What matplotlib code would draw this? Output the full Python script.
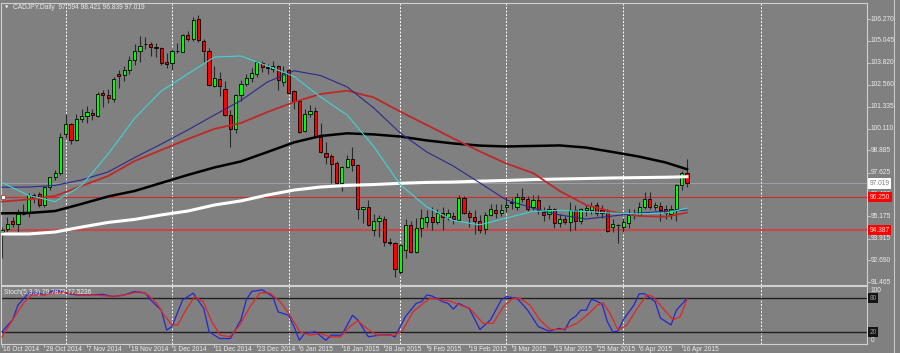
import matplotlib
matplotlib.use("Agg")
import matplotlib.pyplot as plt
import matplotlib.transforms as mtransforms
from matplotlib.lines import Line2D

plt.rcParams["font.family"] = ["Liberation Sans", "DejaVu Sans"]

# daily candles, 16 Oct 2014 .. 17 Apr 2015
opens = [94.30, 94.44, 94.93, 94.74, 95.30, 95.43, 96.37, 96.41, 95.81, 96.84,
         97.37, 97.59, 99.80, 100.37, 99.47, 100.63, 100.82, 101.00, 100.82, 102.09,
         101.98, 101.75, 103.18, 103.10, 103.40, 103.96, 104.49, 104.85, 104.85, 104.71,
         104.62, 103.87, 103.81, 104.45, 104.43, 105.37, 105.13, 106.25, 105.05, 104.49,
         102.50, 102.90, 102.32, 100.87, 100.07, 102.00, 102.62, 102.94, 103.18, 103.81,
         103.55, 103.44, 103.63, 102.75, 103.40, 102.22, 101.68, 99.99, 100.93, 101.11,
         99.65, 98.75, 98.58, 98.19, 97.03, 97.97, 98.38, 98.06, 95.57, 95.68,
         94.41, 94.93, 95.02, 93.71, 93.69, 92.06, 93.30, 94.69, 93.19, 94.50,
         94.87, 95.12, 94.84, 95.34, 95.15, 95.20, 94.97, 96.19, 95.38, 95.12,
         94.93, 94.44, 95.25, 95.53, 95.34, 95.68, 95.90, 95.72, 96.28, 96.12,
         95.68, 96.09, 95.43, 95.30, 95.57, 94.82, 95.01, 94.87, 95.53, 94.93,
         95.50, 95.53, 95.81, 95.53, 95.43, 94.60, 94.69, 94.60, 94.82, 95.25,
         95.25, 95.68, 96.12, 95.68, 95.75, 95.57, 95.30, 95.57, 96.94, 97.594]
highs = [94.60, 95.15, 95.15, 95.57, 95.86, 96.50, 96.50, 96.56, 96.90, 97.40,
         97.78, 99.84, 100.93, 100.41, 100.90, 101.19, 101.38, 101.19, 102.15, 102.28,
         102.32, 103.00, 103.40, 103.60, 104.20, 104.87, 105.31, 105.24, 105.00, 104.90,
         104.68, 104.34, 104.57, 104.92, 105.45, 105.61, 106.40, 106.49, 105.13, 104.62,
         103.63, 103.31, 102.80, 101.15, 102.05, 102.84, 103.20, 103.50, 103.93, 103.90,
         103.75, 103.90, 103.68, 103.63, 103.45, 102.28, 101.72, 101.20, 101.43, 101.30,
         100.41, 99.37, 98.68, 98.30, 98.00, 98.60, 99.06, 98.12, 95.72, 96.09,
         95.30, 95.25, 95.19, 93.95, 93.75, 93.61, 95.00, 94.90, 95.06, 95.57,
         95.50, 95.72, 95.60, 95.68, 95.60, 95.40, 96.37, 96.30, 95.50, 95.53,
         95.25, 95.40, 95.85, 95.85, 95.85, 96.28, 96.20, 96.50, 96.75, 96.30,
         96.37, 96.37, 95.70, 95.80, 95.63, 95.30, 95.20, 96.00, 95.80, 95.63,
         95.80, 96.00, 96.00, 95.80, 95.60, 95.00, 94.72, 95.10, 95.60, 95.60,
         96.00, 96.56, 96.56, 96.00, 96.00, 95.80, 95.80, 97.00, 97.74, 98.421]
lows = [92.85, 94.31, 94.59, 94.31, 95.25, 95.12, 95.91, 95.72, 95.70, 96.65,
        97.22, 97.50, 99.56, 99.24, 99.40, 100.49, 100.44, 100.59, 100.75, 101.34,
        101.53, 101.60, 102.37, 102.80, 103.20, 103.70, 103.87, 104.57, 104.19, 104.15,
        103.68, 103.50, 103.40, 104.38, 104.40, 105.05, 105.05, 104.99, 103.87, 102.50,
        102.46, 101.94, 100.82, 99.09, 99.88, 101.68, 102.50, 102.70, 103.03, 103.30,
        103.20, 103.30, 102.28, 102.50, 102.08, 101.19, 99.88, 99.90, 100.78, 99.65,
        98.75, 98.12, 97.07, 96.99, 96.62, 97.90, 97.74, 95.00, 94.78, 94.63,
        94.07, 94.03, 93.51, 93.55, 91.78, 91.95, 92.85, 93.10, 93.10, 94.03,
        94.60, 94.41, 94.75, 94.41, 94.98, 94.75, 94.93, 95.30, 94.59, 94.18,
        94.26, 94.20, 95.20, 95.10, 95.20, 95.43, 95.60, 95.55, 96.00, 95.45,
        95.50, 95.30, 94.90, 95.00, 94.50, 94.60, 94.75, 94.37, 94.41, 94.75,
        95.20, 95.30, 95.20, 95.10, 94.30, 94.30, 93.70, 94.30, 94.50, 95.00,
        95.20, 95.57, 95.57, 95.50, 94.93, 95.00, 95.00, 94.93, 96.65, 96.839]
closes = [94.40, 94.74, 94.74, 95.31, 95.36, 96.37, 96.19, 95.81, 96.80, 97.37,
          97.59, 99.62, 100.37, 99.47, 100.63, 100.82, 101.06, 100.89, 102.05, 101.98,
          101.81, 102.88, 103.06, 103.40, 103.96, 104.49, 104.77, 104.87, 104.71, 104.62,
          103.81, 103.74, 104.45, 104.47, 105.37, 105.13, 106.21, 105.09, 104.49, 102.56,
          102.94, 102.50, 100.87, 100.07, 102.00, 102.62, 102.94, 103.22, 103.87, 103.55,
          103.50, 103.63, 102.84, 103.22, 102.13, 101.68, 99.93, 100.93, 101.10, 99.69,
          98.81, 98.49, 98.12, 97.03, 97.97, 98.38, 98.06, 95.57, 95.68, 94.69,
          94.93, 95.06, 93.71, 93.70, 92.20, 93.56, 94.69, 93.19, 94.50, 95.06,
          95.12, 94.84, 95.34, 95.15, 95.34, 95.01, 96.19, 95.34, 95.15, 94.93,
          94.41, 95.25, 95.57, 95.34, 95.53, 95.81, 95.95, 96.25, 96.12, 95.57,
          96.09, 95.53, 95.25, 95.57, 94.82, 95.01, 94.87, 95.53, 94.93, 95.57,
          95.63, 95.75, 95.38, 95.34, 94.37, 94.72, 94.69, 94.87, 95.25, 95.28,
          95.72, 96.12, 95.68, 95.81, 95.53, 95.38, 95.57, 96.94, 97.59, 97.019]

# moving averages read every 5 bars
ma_idx = list(range(0, 130, 5)) + [129]
ma_white = [94.18, 94.18, 94.29, 94.57, 94.83, 95.00, 95.25, 95.47, 95.81, 96.04,
            96.37, 96.65, 96.82, 96.91, 96.96, 97.03, 97.08, 97.10, 97.15, 97.19,
            97.24, 97.27, 97.30, 97.33, 97.35, 97.37, 97.40]
ma_black = [95.34, 95.36, 95.47, 95.87, 96.29, 96.60, 97.05, 97.50, 97.92, 98.26,
            98.79, 99.33, 99.69, 99.84, 99.78, 99.66, 99.44, 99.27, 99.15, 99.10,
            99.13, 99.16, 99.04, 98.79, 98.53, 98.20, 97.82]
ma_red = [96.00, 96.12, 96.32, 96.88, 97.44, 98.29, 98.90, 99.52, 100.09, 100.42,
          101.04, 101.60, 102.05, 102.24, 101.86, 101.06, 100.31, 99.55, 98.82, 98.14,
          97.61, 96.60, 95.81, 95.42, 95.19, 95.15, 95.38]
ma_navy = [96.81, 96.82, 96.91, 97.22, 97.67, 98.48, 99.24, 100.03, 100.87, 101.69,
           102.73, 103.36, 103.09, 102.45, 101.27, 99.86, 98.79, 98.00, 97.05, 96.09,
           95.63, 95.25, 95.02, 95.19, 95.36, 95.45, 95.53]
ma_cyan = [97.07, 96.35, 96.00, 96.91, 98.68, 100.70, 102.22, 103.18, 104.13, 104.19,
           103.63, 103.04, 101.88, 100.87, 99.10, 96.95, 95.70, 94.94, 94.69, 95.08,
           95.45, 95.51, 95.44, 95.35, 95.31, 95.36, 95.63]

# stochastic (5,3,3)
k_idx = [0, 2, 3, 5, 7, 8, 10, 12, 14, 17, 19, 21, 23, 25, 27, 28, 30, 31, 32, 34,
         36, 38, 39, 41, 43, 45, 46, 47, 49, 51, 52, 54, 55, 56, 57, 59, 61, 62, 64, 66,
         67, 69, 71, 73, 74, 76, 78, 79, 80, 81, 83, 84, 85, 86, 88, 90, 92, 94, 95, 97,
         99, 101, 103, 105, 106, 107, 108, 109, 110, 111, 112, 113, 114, 115, 116, 117, 119, 120, 121, 123,
         124, 126, 127, 129]
k_val = [21, 42, 68, 89, 89, 86, 95, 89, 86, 86, 87, 83, 86, 92, 89, 77, 59, 24, 30, 77,
         89, 62, 21, 9, 9, 42, 77, 92, 95, 83, 56, 50, 30, 6, 18, 21, 6, 15, 15, 50,
         42, 12, 15, 16, 12, 48, 71, 74, 86, 84, 74, 71, 61, 71, 62, 25, 42, 77, 83, 80,
         59, 30, 22, 27, 24, 42, 48, 59, 59, 78, 75, 70, 39, 21, 22, 42, 68, 88, 88, 74,
         45, 33, 59, 79.8]
d_idx = [0, 2, 4, 5.6, 7.7, 10.4, 12.2, 14.7, 17.1, 19.8, 22.2, 24.1, 26, 27.5, 29.2, 30.3,
         32, 33.1, 34.8, 36.3, 37.9, 39.5, 41.1, 42.9, 44.8, 46.7, 48.6, 50.5, 52.4, 54.2,
         56.1, 58, 59.9, 61.8, 63.7, 65.5, 67, 68.7, 70.6, 72.5, 74, 75.5, 77.4, 79.3, 80.6,
         82.5, 84.4, 86.3, 88.1, 90.6, 92.5, 94.4, 96.2, 97.6, 99.4, 101.3, 103.2, 105.6,
         108.3, 110.2, 112.1, 113.2, 114.5, 116, 117.7, 119.6, 121.5, 122.6, 124.5, 126.4,
         127.7, 129]
d_val = [12, 42, 71, 86, 86, 90, 90, 86, 86, 84, 84, 88, 92, 86, 71, 53.5,
         33, 33, 62, 83, 74, 39, 15, 12, 33, 65, 90, 89, 74, 50.5,
         21, 15, 18, 12, 12, 30, 40.5, 27, 15, 15, 15, 24, 56, 71, 80,
         78, 75, 68, 62, 36, 36, 65, 80, 80, 68, 42, 25, 25,
         36, 50.5, 68, 72, 53.5, 24, 33, 62, 86, 83, 62, 42,
         47.5, 77.5]

date_labels = ["16 Oct 2014", "28 Oct 2014", "7 Nov 2014", "19 Nov 2014", "1 Dec 2014",
               "11 Dec 2014", "23 Dec 2014", "6 Jan 2015", "16 Jan 2015", "28 Jan 2015",
               "9 Feb 2015", "19 Feb 2015", "3 Mar 2015", "13 Mar 2015", "25 Mar 2015",
               "6 Apr 2015", "16 Apr 2015"]
label_idx = list(range(0, 129, 8))
month_idx = [12, 32, 54, 75, 95, 117, 143]
price_ticks = [106.270, 105.045, 103.820, 102.560, 101.335, 100.110, 98.885, 97.625,
               96.400, 95.175, 93.915, 92.690, 91.465]

BG = "#808080"
FRAME = "#d0d0d0"
TXT = "#ececec"
W, H = 900, 353

fig = plt.figure(figsize=(9, 3.53), dpi=100)
fig.patch.set_facecolor(BG)


def px_axes(x0, y0, x1, y1):
    return fig.add_axes([x0 / W, 1 - y1 / H, (x1 - x0) / W, (y1 - y0) / H])


ax = px_axes(1, 3, 867, 285)
st = px_axes(1, 286, 867, 344)
xl = (-1 / 5.31, 865 / 5.31)

for a in (ax, st):
    a.set_facecolor(BG)
    a.set_xlim(*xl)
    a.set_xticks([])
    a.set_yticks([])
    for s in a.spines.values():
        s.set_color(FRAME)
        s.set_linewidth(0.8)
    for m in month_idx:
        a.axvline(m, color="white", lw=0.7, ls=(0, (2, 1.6)), zorder=0.5)

ax.set_ylim(91.31, 107.17)
st.set_ylim(-0.6, 101.7)

# candles
idx = list(range(len(opens)))
bottoms = [min(o, c) for o, c in zip(opens, closes)]
heights = [max(abs(c - o), 0.012) for o, c in zip(opens, closes)]
colors = ["#00ff00" if c > o else ("#ff0000" if c < o else "black")
          for o, c in zip(opens, closes)]
ax.vlines(idx, lows, highs, color="#282828", lw=0.8, zorder=2)
ax.bar(idx, heights, bottom=bottoms, width=0.6, color=colors,
       edgecolor="black", linewidth=0.6, zorder=3)

# moving averages
ax.plot(ma_idx, ma_white, color="white", lw=2.2, zorder=4)
ax.plot(ma_idx, ma_black, color="black", lw=1.8, zorder=4)
ax.plot(ma_idx, ma_red, color="#c02828", lw=1.3, zorder=4)
ax.plot(ma_idx, ma_navy, color="#2a2a8c", lw=0.8, zorder=4)
ax.plot(ma_idx, ma_cyan, color="#3cd6d6", lw=0.8, zorder=4)

# horizontal lines
ax.axhline(97.019, color="#a6adb8", lw=0.5, zorder=1)
ax.axhline(96.250, color="#d42828", lw=0.8, zorder=1)
ax.axhline(94.387, color="#c44a4a", lw=1.6, zorder=1)
ax.plot([0.2], [96.250], marker="s", ms=2.4, mfc="white", mec="#d42828", mew=0.6, zorder=5)

# price scale
tr = mtransforms.blended_transform_factory(ax.transAxes, ax.transData)
for p in price_ticks:
    ax.plot([1.0, 1.003], [p, p], transform=tr, color=FRAME, lw=0.6, clip_on=False)
    ax.text(1.0045, p, f"{p:.3f}", transform=tr, fontsize=4.8, color=TXT,
            va="center", ha="left", clip_on=False)
ax.text(1.003, 97.019, "97.019", transform=tr, fontsize=4.8, color="#808080",
        va="center", ha="left", zorder=6,
        bbox=dict(boxstyle="square,pad=0.25", fc="white", ec="none"))
for p in (96.250, 94.387):
    ax.text(1.003, p, f"{p:.3f}", transform=tr, fontsize=4.8, color="#ffe0e0",
            va="center", ha="left", zorder=6,
            bbox=dict(boxstyle="square,pad=0.25", fc="#ff0000", ec="none"))

ax.text(4 / 866, 0.985, "\u25bc", transform=ax.transAxes, fontsize=3.2, color=TXT,
        va="center", ha="left", family="DejaVu Sans")
ax.text(12 / 866, 0.985, "CADJPY,Daily  97.594 98.421 96.839 97.019".replace(",", "."),
        transform=ax.transAxes, fontsize=4.8, color=TXT, va="center", ha="left")

# stochastic
st.axhline(80, color="#202020", lw=1.0, zorder=1)
st.axhline(20, color="#202020", lw=1.0, zorder=1)
st.plot(k_idx, k_val, color="#2626d0", lw=0.9, zorder=3)
st.plot(d_idx, d_val, color="#e02626", lw=0.9, zorder=3)
st.text(3 / 866, 0.884, "Stoch(5,3,3) 79.7872 77.5236", transform=st.transAxes,
        fontsize=4.8, color=TXT, va="center", ha="left")
trs = mtransforms.blended_transform_factory(st.transAxes, st.transData)
st.text(1.0045, 93.5, "100", transform=trs, fontsize=4.8, color=TXT, va="center", ha="left")
st.text(1.0045, 6.4, "0", transform=trs, fontsize=4.8, color=TXT, va="center", ha="left")
for lv in (80, 20):
    st.text(1.003, lv, str(lv), transform=trs, fontsize=4.8, color="#9a9a9a",
            va="center", ha="left", zorder=6,
            bbox=dict(boxstyle="square,pad=0.2", fc="#141414", ec="none"))

# date axis
trx = mtransforms.blended_transform_factory(st.transData, st.transAxes)
for i, lab in zip(label_idx, date_labels):
    st.plot([i, i], [0, -0.055], transform=trx, color=FRAME, lw=0.6, clip_on=False)
    st.text(i + 0.2, -0.1, lab, transform=trx, fontsize=4.8, color=TXT,
            va="center", ha="left", clip_on=False)

fig.add_artist(Line2D([893.5 / W, 893.5 / W], [0, 1], transform=fig.transFigure,
                      color="#c8c8c8", lw=0.8))

fig.savefig("out.png", dpi=100, facecolor=fig.get_facecolor())
